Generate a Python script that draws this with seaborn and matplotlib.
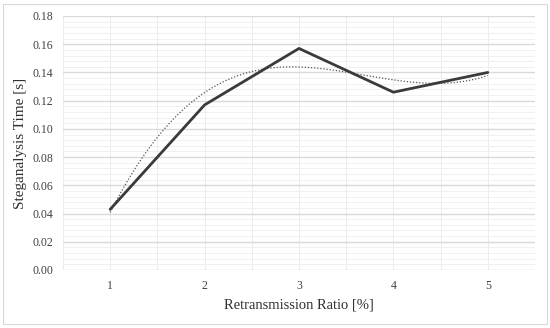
import numpy as np
import pandas as pd
import matplotlib
matplotlib.use("Agg")
import matplotlib.pyplot as plt
from matplotlib.patches import Rectangle
from matplotlib.ticker import MultipleLocator
import seaborn as sns

# Retransmission ratio vs steganalysis time
ratio = [1, 2, 3, 4, 5]
time_s = [0.043, 0.117, 0.157, 0.126, 0.140]

df = pd.DataFrame({"ratio": ratio, "time": time_s})

# polynomial trendline of the data (as in the original spreadsheet chart)
coef = np.polyfit(df["ratio"], df["time"], 3)
xs = np.linspace(1, 5, 200)
trend = pd.DataFrame({"ratio": xs, "time": np.polyval(coef, xs)})

sns.set_style("white")
plt.rcParams["font.family"] = ["Liberation Serif", "DejaVu Serif"]

fig = plt.figure(figsize=(5.5, 3.28), dpi=100)
ax = fig.add_axes([63 / 550, 1 - 270 / 328, (535 - 63) / 550, (270 - 16) / 328])

sns.lineplot(data=trend, x="ratio", y="time", ax=ax, color="#555555",
             linestyle=(0, (1, 1.5)), linewidth=0.9)
sns.lineplot(data=df, x="ratio", y="time", ax=ax, color="#3a3a3a", linewidth=2.0)

ax.set_xlim(0.5, 5.5)
ax.set_ylim(0, 0.18)
ax.set_xticks(ratio)
ax.xaxis.set_minor_locator(MultipleLocator(0.5))
ax.yaxis.set_major_locator(MultipleLocator(0.02))
ax.yaxis.set_minor_locator(MultipleLocator(0.004))
ax.yaxis.set_major_formatter(matplotlib.ticker.FormatStrFormatter("%.2f"))
ax.grid(which="major", axis="y", color="#d9d9d9", linewidth=1.0)
ax.grid(which="minor", axis="y", color="#f0f0f0", linewidth=0.7)
ax.grid(which="minor", axis="x", color="#ececec", linewidth=0.7)
ax.grid(which="major", axis="x", color="#ececec", linewidth=0.7)
ax.set_axisbelow(True)
for s in ax.spines.values():
    s.set_visible(False)
ax.tick_params(axis="both", which="both", length=0, labelsize=8.5, colors="#404040", pad=7)
ax.set_xlabel("Retransmission Ratio [%]", fontsize=10.5, color="#303030", labelpad=5)
ax.set_ylabel("Steganalysis Time [s]", fontsize=11, color="#303030", labelpad=4)

fig.patches.append(Rectangle((3 / 550, 4 / 328), 544 / 550, 320 / 328, transform=fig.transFigure,
                             fill=False, edgecolor="#d9d9d9", linewidth=0.8))

fig.savefig("out.png", dpi=100)
